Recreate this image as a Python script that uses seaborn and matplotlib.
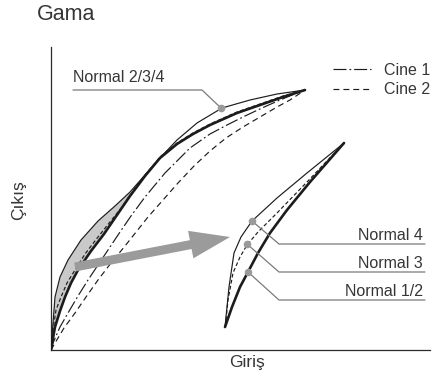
import matplotlib
matplotlib.use("Agg")
import matplotlib.pyplot as plt
from matplotlib.lines import Line2D
from matplotlib.patches import FancyArrow
import numpy as np
import seaborn as sns

# Input / output levels of each gamma curve (schematic units)
normal_hi_x = [0, 1, 2, 4, 9, 17, 30, 47, 64, 79, 94, 109, 126, 146, 171, 199, 226, 254]
normal_hi_y = [0, 14, 27, 53, 73, 90, 110, 129, 144, 158, 175, 192, 210, 227, 242, 250, 256, 260]

normal_12_x = [0, 2, 4, 9, 14, 20, 27, 40, 53, 66, 79, 94, 109, 126, 142, 159, 186, 209, 232, 254]
normal_12_y = [0, 12, 23, 39, 53, 67, 80, 99, 116, 135, 154, 174, 192, 206, 216, 225, 237, 245, 253, 260]

normal_3_x = [0, 2, 5, 10, 16, 24, 34, 47, 59, 71, 79, 94, 109, 126, 142, 159, 186, 209, 232, 254]
normal_3_y = [0, 20, 40, 53, 67, 80, 96, 113, 128, 143, 155, 175, 193, 207, 217, 226, 238, 246, 254, 260]

cine1_x = [0, 2, 9, 17, 27, 37, 47, 57, 69, 80, 94, 114, 139, 159, 176, 194, 211, 229, 246, 254]
cine1_y = [0, 7, 23, 37, 54, 70, 85, 100, 118, 134, 153, 177, 202, 216, 225, 234, 242, 250, 257, 260]

cine2_x = [0, 4, 13, 24, 35, 47, 60, 74, 97, 112, 127, 143, 159, 175, 192, 209, 226, 239, 254]
cine2_y = [0, 7, 22, 37, 53, 70, 87, 104, 133, 150, 167, 184, 199, 212, 223, 233, 243, 250, 260]

# Enlarged view of the dark end of the curves
zoom_n4_x = [174, 176, 178, 183, 190, 201, 226, 256, 293]
zoom_n4_y = [23, 43, 63, 97, 113, 129, 152, 177, 207]
zoom_n3_x = [175, 177, 182, 189, 196, 207, 226, 256, 293]
zoom_n3_y = [30, 50, 77, 93, 105, 118, 137, 168, 207]
zoom_n12_x = [174, 181, 189, 197, 207, 219, 236, 259, 293]
zoom_n12_y = [23, 43, 63, 78, 97, 117, 140, 168, 207]

# Callout labels: marker point, bend point, end of leader, label position
callout_text = ["Normal 2/3/4", "Normal 4", "Normal 3", "Normal 1/2"]
callout_mark_x = [170, 201, 196, 197]
callout_mark_y = [242, 129, 106, 78]
callout_bend_x = [151, 228, 228, 228]
callout_bend_y = [260, 106, 78, 50]
callout_end_x = [22, 374, 374, 374]
callout_text_y = [272, 115, 87, 59]

legend_labels = ["Cine 1", "Cine 2"]
title_text = "Gama"
x_label = "Giriş"
y_label = "Çıkış"

sns.set_theme(style="white")
plt.rcParams["font.family"] = ["Liberation Sans", "DejaVu Sans"]

INK = "#1c1c1c"
TEXT = "#363636"
LEADER = "#7a7a7a"
DOT = "#9a9a9a"
SHADE = "#c9c9c9"

fig = plt.figure(figsize=(4.34, 3.80), dpi=100)
ax = fig.add_axes([51 / 434, 30 / 380, 379 / 434, 303 / 380])

thin = 0.85
thick = 1.9
dash_cine1 = (0, (11, 2.5, 1.5, 2.5))
dash_cine2 = (0, (5, 3.4))
dash_n3 = (0, (3.2, 2.0))

# shaded spread between the upper curve and Normal 1/2 near black level
hi_x = np.array(normal_hi_x); hi_y = np.array(normal_hi_y)
lo_x = np.array(normal_12_x); lo_y = np.array(normal_12_y)
sel_hi = hi_y <= 158
sel_lo = lo_y <= 154
ax.fill(np.r_[hi_x[sel_hi], lo_x[sel_lo][::-1]],
        np.r_[hi_y[sel_hi], lo_y[sel_lo][::-1]],
        color=SHADE, lw=0, zorder=1)

def curve(xs, ys, lw, ls="-", z=3):
    sns.lineplot(x=xs, y=ys, ax=ax, color=INK, lw=lw, linestyle=ls,
                 sort=False, estimator=None, zorder=z)

curve(cine2_x, cine2_y, thin, dash_cine2)
curve(cine1_x, cine1_y, thin, dash_cine1)
curve(normal_hi_x, normal_hi_y, thin)
curve(normal_12_x, normal_12_y, thick)
curve(normal_3_x, normal_3_y, thin, dash_n3, z=4)

curve(zoom_n4_x, zoom_n4_y, thin)
curve(zoom_n3_x, zoom_n3_y, thin, dash_n3, z=4)
curve(zoom_n12_x, zoom_n12_y, thick)

# grey arrow pointing from the shaded area to the enlarged view
ax.add_patch(FancyArrow(24, 83, 155, 30, width=9, head_width=28,
                        head_length=40, length_includes_head=True,
                        color="#9b9b9b", lw=0, zorder=5))

# callouts
for i, label in enumerate(callout_text):
    ax.plot([callout_mark_x[i], callout_bend_x[i], callout_end_x[i]],
            [callout_mark_y[i], callout_bend_y[i], callout_bend_y[i]],
            color=LEADER, lw=0.9, zorder=6)
    if i == 0:
        ax.text(callout_end_x[i], callout_text_y[i], label, ha="left",
                va="center", fontsize=11.5, color=TEXT)
    else:
        ax.text(callout_end_x[i] - 2, callout_text_y[i], label, ha="right",
                va="center", fontsize=11.5, color=TEXT)
sns.scatterplot(x=callout_mark_x, y=callout_mark_y, ax=ax, color=DOT,
                s=30, linewidth=0, zorder=7)

handles = [Line2D([], [], color=INK, lw=thin, linestyle=dash_cine1),
           Line2D([], [], color=INK, lw=thin, linestyle=dash_cine2)]
ax.legend(handles, legend_labels, loc="center left",
          bbox_to_anchor=(282, 270), bbox_transform=ax.transData,
          frameon=False, borderpad=0, borderaxespad=0, handlelength=2.35,
          handletextpad=0.85, labelspacing=0.3, fontsize=11.5,
          labelcolor=TEXT)

ax.set_xlim(0, 379)
ax.set_ylim(0, 303)
ax.set_xticks([])
ax.set_yticks([])
for side in ("top", "right"):
    ax.spines[side].set_visible(False)
for side in ("left", "bottom"):
    ax.spines[side].set_color("#2a2a2a")
    ax.spines[side].set_linewidth(0.9)

ax.set_xlabel(x_label, fontsize=12.5, color=TEXT)
ax.set_ylabel(y_label, fontsize=12.5, color=TEXT)
ax.xaxis.set_label_coords(196 / 379, -5 / 303)
ax.yaxis.set_label_coords(-25 / 379, 150 / 303)

fig.text(37 / 434, 1 - 15 / 380, title_text, ha="left", va="center",
         fontsize=15.5, color=TEXT)

fig.savefig("out.png", dpi=100)
